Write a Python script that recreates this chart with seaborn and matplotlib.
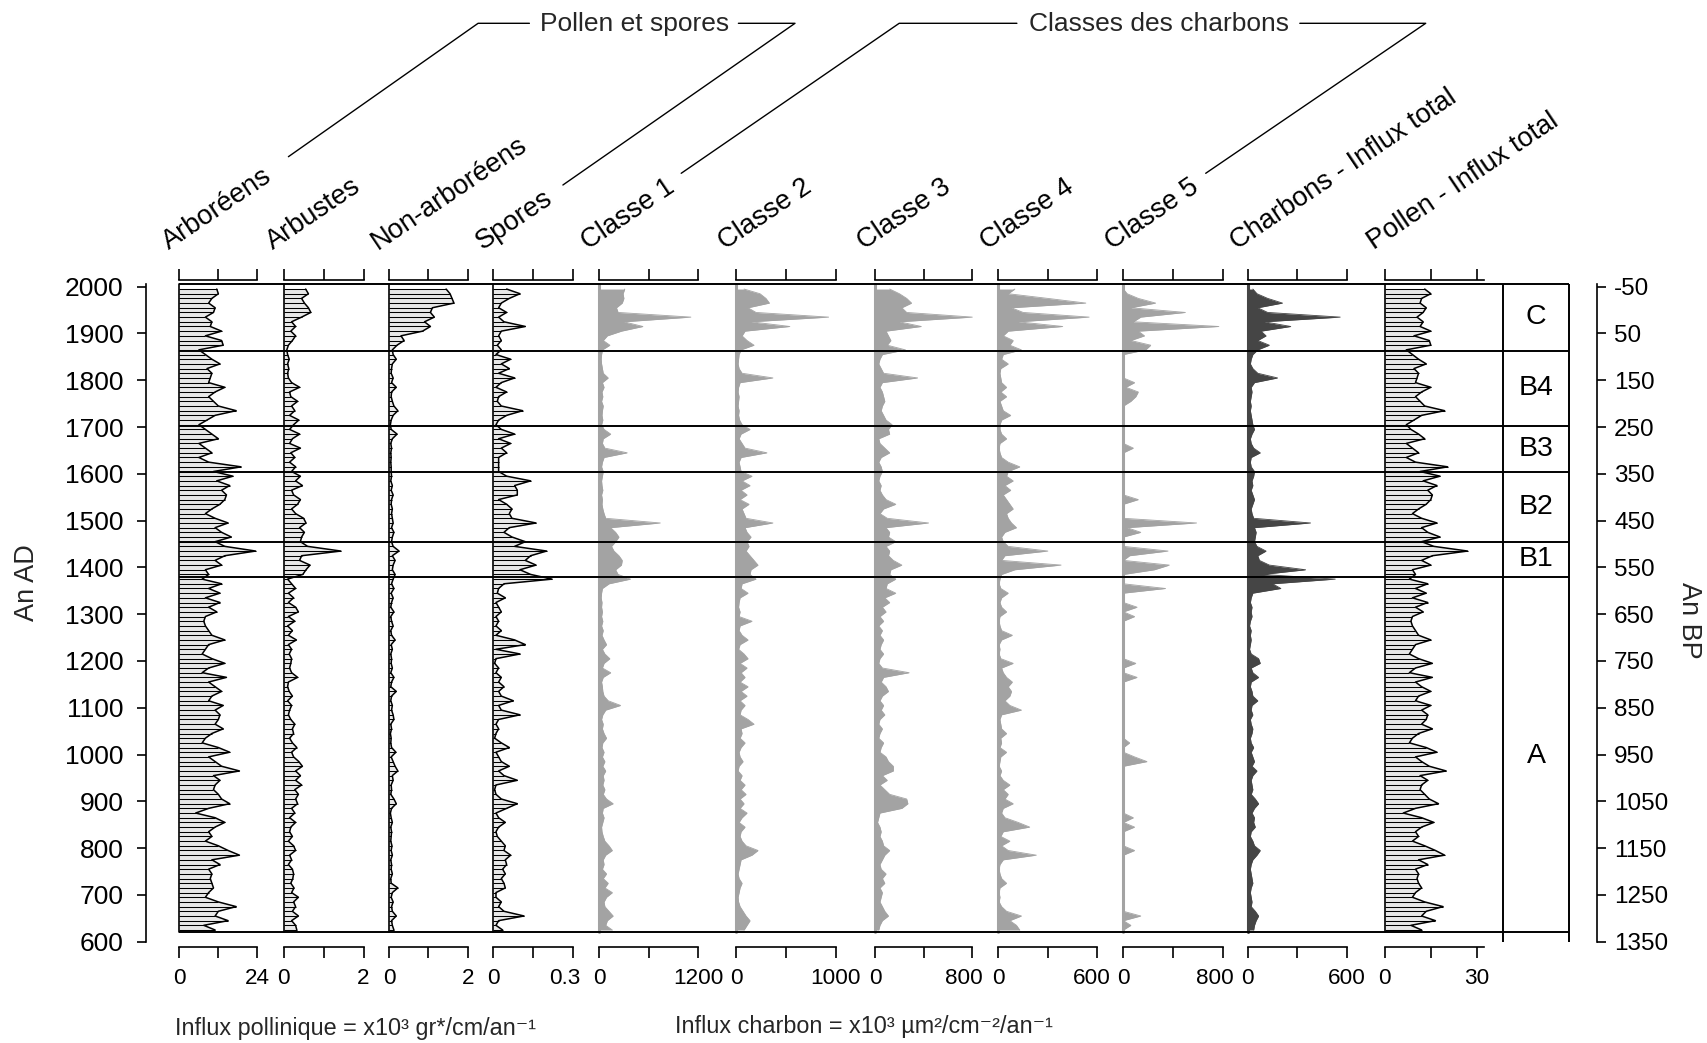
import numpy as np
import pandas as pd
import matplotlib
matplotlib.use("Agg")
import matplotlib.pyplot as plt
import matplotlib.transforms as mtransforms
import seaborn as sns
from matplotlib.lines import Line2D
from matplotlib.ticker import FixedLocator

sns.set_theme(style="ticks")
plt.rcParams["font.family"] = ["Liberation Sans", "DejaVu Sans"]

# ---------------- data ----------------
AGES = [1995, 1985, 1975, 1965, 1955, 1945, 1935, 1925, 1915, 1905,
        1895, 1885, 1875, 1865, 1855, 1845, 1835, 1825, 1815, 1805,
        1795, 1785, 1775, 1765, 1755, 1745, 1735, 1725, 1715, 1705,
        1695, 1685, 1675, 1665, 1655, 1645, 1635, 1625, 1615, 1605,
        1595, 1585, 1575, 1565, 1555, 1545, 1535, 1525, 1515, 1505,
        1495, 1485, 1475, 1465, 1455, 1445, 1435, 1425, 1415, 1405,
        1395, 1385, 1375, 1365, 1355, 1345, 1335, 1325, 1315, 1305,
        1295, 1285, 1275, 1265, 1255, 1245, 1235, 1225, 1215, 1205,
        1195, 1185, 1175, 1165, 1155, 1145, 1135, 1125, 1115, 1105,
        1095, 1085, 1075, 1065, 1055, 1045, 1035, 1025, 1015, 1005,
        995, 985, 975, 965, 955, 945, 935, 925, 915, 905,
        895, 885, 875, 865, 855, 845, 835, 825, 815, 805,
        795, 785, 775, 765, 755, 745, 735, 725, 715, 705,
        695, 685, 675, 665, 655, 645, 635,
        625]

ARBOREENS = [11.5, 12, 10, 9, 11, 10.5, 8, 10, 9.5, 13,
             8, 13, 13.5, 6, 8, 10, 12.5, 8.5, 10, 9.5,
             9, 14, 11, 9, 10.5, 12, 17.5, 11, 8.5, 6,
             8, 10, 12, 6, 8, 10, 6, 9, 19, 10.5,
             16.5, 11.5, 15.5, 13, 14.5, 14, 12.5, 10, 8, 11,
             15, 11, 13, 16, 11, 14, 23.5, 14, 11, 13,
             8, 9, 7, 13, 9, 12.5, 8, 12.5, 9, 11.5,
             8, 7.5, 8, 9, 10, 14, 9, 8, 7, 10,
             14, 9, 7, 14.5, 9, 11, 13, 10, 9, 13.5,
             11, 12.5, 12, 11, 13.5, 10, 8, 7, 12, 15.5,
             9, 11, 13, 18.5, 10.5, 12.5, 11, 10.5, 12, 13,
             15.5, 9, 5, 11, 14, 11, 9, 10, 8, 12,
             15, 18.5, 10, 12.5, 9, 10, 9.5, 10, 10.5, 9,
             8, 12, 17.5, 12, 11, 15, 7.5,
             11]

ARBUSTES = [0.55, 0.62, 0.45, 0.52, 0.62, 0.68, 0.45, 0.2, 0.3, 0.18,
            0.3, 0.22, 0.12, 0.08, 0.1, 0.14, 0.1, 0.13, 0.1, 0.12,
            0.2, 0.4, 0.15, 0.18, 0.35, 0.2, 0.28, 0.15, 0.38, 0.25,
            0.15, 0.4, 0.22, 0.15, 0.42, 0.18, 0.28, 0.15, 0.3, 0.2,
            0.42, 0.3, 0.47, 0.2, 0.25, 0.42, 0.35, 0.2, 0.3, 0.5,
            0.56, 0.4, 0.52, 0.45, 0.42, 0.6, 1.43, 0.45, 0.4, 0.66,
            0.56, 0.48, 0.1, 0.2, 0.3, 0.12, 0.25, 0.12, 0.3, 0.37,
            0.12, 0.28, 0.1, 0.22, 0.12, 0.32, 0.12, 0.2, 0.14, 0.2,
            0.18, 0.15, 0.2, 0.35, 0.12, 0.1, 0.14, 0.22, 0.1, 0.2,
            0.15, 0.12, 0.18, 0.28, 0.22, 0.25, 0.15, 0.22, 0.33, 0.2,
            0.25, 0.38, 0.47, 0.3, 0.42, 0.3, 0.45, 0.28, 0.37, 0.3,
            0.35, 0.2, 0.28, 0.15, 0.3, 0.18, 0.15, 0.22, 0.12, 0.25,
            0.3, 0.15, 0.2, 0.12, 0.22, 0.25, 0.23, 0.18, 0.26, 0.2,
            0.37, 0.25, 0.3, 0.22, 0.37, 0.2, 0.3,
            0.33]

NON_ARBOREENS = [1.45, 1.55, 1.6, 1.65, 1.1, 1.05, 1.15, 0.9, 1.05, 0.85,
                 0.3, 0.38, 0.2, 0.08, 0.1, 0.18, 0.08, 0.06, 0.05, 0.1,
                 0.06, 0.18, 0.06, 0.05, 0.08, 0.12, 0.22, 0.1, 0.05, 0.03,
                 0.05, 0.2, 0.08, 0.04, 0.06, 0.04, 0.05, 0.04, 0.05, 0.05,
                 0.06, 0.04, 0.08, 0.05, 0.1, 0.06, 0.05, 0.08, 0.06, 0.08,
                 0.1, 0.06, 0.12, 0.08, 0.06, 0.1, 0.25, 0.08, 0.15, 0.1,
                 0.08, 0.15, 0.1, 0.06, 0.12, 0.05, 0.1, 0.06, 0.04, 0.12,
                 0.04, 0.06, 0.1, 0.04, 0.06, 0.15, 0.05, 0.08, 0.04, 0.06,
                 0.05, 0.08, 0.04, 0.12, 0.06, 0.04, 0.18, 0.06, 0.04, 0.08,
                 0.06, 0.1, 0.12, 0.04, 0.06, 0.03, 0.05, 0.04, 0.06, 0.17,
                 0.05, 0.1, 0.15, 0.22, 0.08, 0.1, 0.05, 0.06, 0.04, 0.12,
                 0.18, 0.06, 0.03, 0.05, 0.08, 0.04, 0.06, 0.05, 0.04, 0.07,
                 0.05, 0.08, 0.04, 0.06, 0.05, 0.08, 0.04, 0.05, 0.22, 0.08,
                 0.05, 0.1, 0.06, 0.08, 0.18, 0.06, 0.08,
                 0.12]

SPORES = [0.05, 0.1, 0.06, 0.03, 0.02, 0.05, 0.02, 0.04, 0.12, 0.03,
          0.02, 0.03, 0.015, 0.03, 0.01, 0.065, 0.03, 0.06, 0.02, 0.08,
          0.03, 0.01, 0.05, 0.02, 0.015, 0.03, 0.11, 0.05, 0.02, 0.01,
          0.03, 0.08, 0.02, 0.065, 0.03, 0.05, 0.02, 0.02, 0.02, 0.02,
          0.05, 0.14, 0.08, 0.09, 0.09, 0.02, 0.05, 0.07, 0.06, 0.07,
          0.16, 0.06, 0.04, 0.07, 0.12, 0.08, 0.2, 0.14, 0.12, 0.16,
          0.1, 0.14, 0.22, 0.04, 0.02, 0.015, 0.045, 0.01, 0.02, 0.03,
          0.01, 0.02, 0.01, 0.03, 0.01, 0.08, 0.12, 0.01, 0.1, 0.01,
          0.005, 0.02, 0.01, 0.03, 0.02, 0.04, 0.02, 0.03, 0.075, 0.02,
          0.03, 0.1, 0.02, 0.01, 0.02, 0.01, 0.005, 0.03, 0.06, 0.01,
          0.02, 0.03, 0.06, 0.02, 0.04, 0.09, 0.01, 0.005, 0.01, 0.03,
          0.09, 0.05, 0.01, 0.02, 0.045, 0.02, 0.01, 0.015, 0.03, 0.045,
          0.04, 0.065, 0.045, 0.05, 0.035, 0.045, 0.03, 0.04, 0.045, 0.01,
          0.01, 0.03, 0.02, 0.04, 0.115, 0.02, 0.01,
          0.035]

CLASSE_1 = [310, 290, 300, 280, 210, 230, 1110, 300, 530, 270,
            100, 50, 130, 40, 30, 25, 30, 40, 50, 110,
            40, 60, 35, 45, 30, 50, 40, 35, 45, 30,
            60, 140, 50, 40, 70, 340, 60, 40, 30, 50,
            40, 30, 35, 45, 30, 40, 35, 45, 60, 80,
            740, 140, 200, 240, 200, 150, 180, 240, 280, 270,
            200, 230, 380, 120, 40, 30, 25, 35, 30, 40,
            30, 45, 30, 50, 35, 60, 90, 40, 70, 130,
            60, 40, 140, 50, 30, 40, 45, 60, 110, 260,
            80, 45, 30, 50, 40, 60, 90, 45, 35, 60,
            40, 70, 45, 80, 50, 60, 45, 70, 50, 90,
            170, 50, 40, 60, 45, 30, 35, 50, 70, 120,
            160, 80, 50, 60, 40, 90, 50, 110, 70, 160,
            90, 60, 70, 120, 170, 100, 80,
            160]

CLASSE_2 = [80, 240, 300, 335, 120, 200, 930, 150, 540, 90,
            60, 110, 180, 50, 30, 25, 20, 30, 60, 370,
            40, 25, 20, 30, 25, 20, 30, 25, 35, 60,
            140, 50, 30, 60, 90, 310, 50, 30, 40, 50,
            160, 60, 140, 50, 110, 40, 130, 60, 80, 100,
            370, 90, 110, 150, 110, 130, 100, 140, 180, 220,
            150, 140, 200, 60, 50, 120, 40, 30, 25, 40,
            30, 160, 40, 30, 60, 120, 40, 25, 80, 120,
            40, 110, 50, 90, 40, 120, 50, 110, 40, 90,
            50, 40, 120, 180, 50, 60, 40, 90, 50, 30,
            40, 70, 30, 20, 60, 40, 90, 50, 100, 40,
            80, 40, 110, 60, 30, 90, 50, 40, 60, 100,
            220, 160, 50, 40, 30, 20, 30, 60, 40, 30,
            20, 25, 40, 70, 100, 140, 110,
            80]

CLASSE_3 = [120, 200, 260, 300, 220, 260, 800, 200, 380, 90,
            110, 130, 100, 250, 60, 40, 30, 50, 70, 350,
            60, 40, 60, 70, 80, 60, 50, 70, 90, 140,
            110, 120, 30, 40, 80, 120, 50, 30, 50, 60,
            40, 30, 50, 40, 60, 90, 170, 70, 40, 100,
            440, 90, 120, 110, 170, 90, 120, 110, 150, 220,
            130, 120, 170, 100, 90, 170, 80, 120, 60, 90,
            40, 70, 30, 60, 40, 70, 50, 40, 70, 40,
            30, 60, 280, 70, 50, 90, 110, 60, 40, 70,
            50, 80, 40, 30, 60, 40, 30, 70, 50, 40,
            90, 110, 150, 150, 60, 100, 40, 80, 120, 260,
            270, 220, 40, 30, 20, 40, 50, 40, 60, 70,
            120, 80, 60, 40, 50, 90, 60, 80, 40, 60,
            50, 40, 60, 80, 110, 60, 40,
            30]

CLASSE_4 = [100, 60, 300, 530, 80, 150, 550, 120, 390, 60,
            30, 90, 70, 140, 30, 20, 60, 15, 10, 15,
            20, 50, 15, 50, 10, 20, 30, 75, 20, 10,
            10, 20, 50, 10, 5, 10, 20, 60, 130, 60,
            50, 90, 40, 75, 30, 50, 70, 90, 50, 60,
            80, 110, 40, 20, 30, 60, 300, 40, 20, 380,
            100, 20, 10, 5, 15, 60, 20, 10, 20, 50,
            10, 5, 10, 20, 85, 20, 5, 10, 5, 15,
            90, 20, 30, 50, 85, 60, 80, 70, 40, 70,
            140, 20, 10, 15, 20, 50, 15, 20, 10, 50,
            15, 10, 5, 20, 10, 30, 70, 30, 60, 40,
            90, 30, 20, 40, 120, 190, 30, 15, 70, 20,
            60, 230, 30, 10, 5, 10, 20, 50, 10, 5,
            10, 5, 20, 50, 140, 70, 110,
            130]

CLASSE_5 = [0, 30, 120, 260, 60, 500, 140, 80, 770, 120,
            170, 60, 220, 180, 0, 0, 0, 0, 0, 0,
            90, 20, 120, 100, 60, 0, 0, 0, 0, 0,
            0, 0, 0, 0, 80, 0, 0, 0, 0, 0,
            0, 0, 0, 0, 0, 120, 0, 0, 0, 0,
            590, 30, 140, 0, 0, 0, 360, 50, 0, 370,
            250, 0, 0, 0, 340, 0, 0, 0, 110, 0,
            90, 0, 0, 0, 0, 0, 0, 0, 0, 0,
            100, 0, 0, 110, 0, 0, 0, 0, 0, 0,
            0, 0, 0, 0, 0, 0, 0, 50, 0, 0,
            90, 190, 0, 0, 0, 0, 0, 0, 0, 0,
            0, 0, 0, 80, 0, 90, 0, 0, 0, 0,
            90, 0, 0, 0, 0, 0, 0, 0, 0, 0,
            0, 0, 0, 0, 140, 0, 60,
            0]

CHARBONS_TOTAL = [30, 55, 120, 210, 60, 120, 560, 100, 260, 80,
                  110, 60, 130, 60, 30, 20, 15, 30, 60, 180,
                  40, 20, 25, 20, 15, 20, 15, 20, 25, 30,
                  40, 25, 15, 20, 35, 75, 20, 15, 20, 40,
                  35, 25, 30, 20, 30, 40, 30, 20, 25, 35,
                  380, 40, 50, 45, 40, 55, 110, 60, 70, 130,
                  350, 90, 530, 150, 200, 30, 20, 15, 25, 20,
                  25, 15, 10, 20, 15, 20, 15, 10, 20, 65,
                  75, 20, 30, 65, 20, 15, 25, 30, 60, 25,
                  20, 30, 15, 20, 30, 25, 15, 20, 35, 20,
                  30, 40, 25, 55, 30, 20, 25, 30, 20, 45,
                  65, 40, 25, 40, 35, 45, 20, 15, 30, 40,
                  75, 55, 30, 20, 15, 20, 25, 30, 20, 15,
                  20, 25, 20, 45, 65, 50, 40,
                  35]

POLLEN_TOTAL = [13, 15, 12, 11.5, 13.5, 12.5, 10.5, 12.5, 11.5, 15,
                9.5, 14.5, 15, 7, 9, 11, 13.5, 9.5, 11, 10.5,
                10, 15, 12, 10, 11.5, 13, 19.5, 12, 9.5, 7,
                8.5, 11, 13, 7, 9, 11, 7, 10, 20.5, 11.5,
                18, 12.5, 17, 14, 15.5, 15, 13.5, 11, 9, 12,
                17, 12, 14, 18, 12, 16, 27, 15.5, 12, 15,
                9, 10, 8, 14, 10, 13.5, 9, 14, 10, 12.5,
                9, 8.5, 9, 10, 11, 15, 10, 9, 8, 11,
                15.5, 10, 8, 15.5, 10, 12, 15, 11, 10, 15,
                12, 14, 13.5, 12, 15.5, 11, 9, 8, 13.5, 17,
                10, 12, 14.5, 20, 11.5, 14, 12, 11.5, 13, 14.5,
                17.5, 10, 6, 12, 16, 12, 10, 11, 9, 13,
                16.5, 19.5, 11, 14, 10, 11, 10.5, 11, 12, 10,
                9, 13, 19, 13.5, 12, 16.5, 8.5,
                12]

TITLES = ["Arboréens", "Arbustes", "Non-arboréens", "Spores",
          "Classe 1", "Classe 2", "Classe 3", "Classe 4", "Classe 5",
          "Charbons - Influx total", "Pollen - Influx total"]
SERIES = [ARBOREENS, ARBUSTES, NON_ARBOREENS, SPORES,
          CLASSE_1, CLASSE_2, CLASSE_3, CLASSE_4, CLASSE_5,
          CHARBONS_TOTAL, POLLEN_TOTAL]
AXIS_MAX = [24, 2, 2, 0.3, 1200, 1000, 800, 600, 800, 600, 30]
AXIS_MAX_LABEL = ["24", "2", "2", "0.3", "1200", "1000", "800", "600", "800", "600", "30"]
KIND = ["pollen"] * 4 + ["charcoal"] * 5 + ["total_charcoal", "pollen"]

ZONE_BOUNDS = [1863, 1703, 1603, 1454, 1380]
ZONE_LABELS = ["C", "B4", "B3", "B2", "B1", "A"]
ZONE_EDGES = [2006, 1863, 1703, 1603, 1454, 1380, 620]

for s in SERIES:
    assert len(s) == len(AGES), len(s)

# ---------------- layout (pixels of a 1708 x 1043 canvas) ----------------
W, H = 1708, 1043
DPI = 100
fig = plt.figure(figsize=(W / DPI, H / DPI), dpi=DPI)
fig.patch.set_facecolor("white")

def fx(px):
    return px / W

def fy(px):
    return 1 - px / H

Y2000, Y600 = 286.7, 941.7
PX_PER_YR = (Y600 - Y2000) / 1400.0
YMAX = 2006
TOP_PX = Y2000 - (YMAX - 2000) * PX_PER_YR
AX_B = fy(Y600)
AX_H = (Y600 - TOP_PX) / H
PT = 72 / DPI  # points per pixel

LEFTS = [179.5, 283.6, 389.2, 493.3, 599.1, 736.1, 875.1, 998.3, 1123.4, 1247.9, 1384.9]
RIGHTS = [257.2, 363.6, 467.7, 573.3, 698.3, 835.6, 972.3, 1097.4, 1222.6, 1346.8, 1476.7]
MAX_LABEL_DX = [0, 0, 0, -8, 0, 0, -8, -6, -8, 0, 0]   # px nudges of the max labels

FS_TITLE = 19.6
FS_BOTTOM = 16.2
FS_LEFT = 19
FS_RIGHT = 17.5
LINE_W = 1.2
LABEL_BASELINE_PX = 984.0

for i, (title, vals, amax, alab, kind) in enumerate(zip(TITLES, SERIES, AXIS_MAX, AXIS_MAX_LABEL, KIND)):
    left, right = LEFTS[i], RIGHTS[i]
    xmax = amax
    if title.startswith("Pollen"):
        xmax = 32.5
        right = left + (right - left) * xmax / amax
    ax = fig.add_axes([fx(left), AX_B, (right - left) / W, AX_H])
    ax.set_xlim(0, xmax)
    ax.set_ylim(600, YMAX)
    ax.patch.set_visible(False)
    df = pd.DataFrame({"age": AGES, "val": vals})
    if kind == "pollen":
        ax.fill_betweenx(df["age"], 0, df["val"], color="#e8e8e8", lw=0, clip_on=False, zorder=1)
        ax.hlines(df["age"], 0, df["val"], color="black", lw=0.75, zorder=2, clip_on=False)
        sns.lineplot(data=df, x="val", y="age", orient="y", sort=False, estimator=None,
                     color="black", linewidth=1.1, ax=ax, zorder=3, clip_on=False)
        ax.plot([0, 0], [620, YMAX], color="black", lw=LINE_W, clip_on=False, zorder=4)
    else:
        col = "#a3a3a3" if kind == "charcoal" else "#454545"
        ax.fill_betweenx(df["age"], 0, df["val"], color=col, lw=0, clip_on=False, zorder=1)
        sns.lineplot(data=df, x="val", y="age", orient="y", sort=False, estimator=None,
                     color=col, linewidth=0.6, ax=ax, zorder=2, clip_on=False)
        ax.plot([0, 0], [620, YMAX], color=col, lw=2.2, clip_on=False, zorder=3)
    ax.set_xlabel("")
    ax.set_ylabel("")
    for sp in ("left", "right"):
        ax.spines[sp].set_visible(False)
    ax.spines["top"].set_position(("outward", 3.9 * PT))
    ax.spines["bottom"].set_position(("outward", 4.8 * PT))
    for sp in ("top", "bottom"):
        ax.spines[sp].set_bounds(0, xmax)
        ax.spines[sp].set_linewidth(LINE_W)
        ax.spines[sp].set_color("black")
    ax.xaxis.set_major_locator(FixedLocator([0, amax / 2, amax]))
    ax.tick_params(axis="x", which="both", top=True, bottom=True, labeltop=False,
                   labelbottom=False, direction="out", length=11 * PT, width=LINE_W,
                   color="black")
    ax.set_yticks([])
    # bottom scale labels (0 and maximum)
    base = mtransforms.blended_transform_factory(ax.transData, ax.transAxes)
    dy = -(LABEL_BASELINE_PX - Y600) / DPI
    for xv, lab, dxp in ((0, "0", 0), (amax, alab, MAX_LABEL_DX[i])):
        tr = base + mtransforms.ScaledTranslation(dxp / DPI, dy, fig.dpi_scale_trans)
        ax.text(xv, 0, lab, transform=tr, ha="center", va="baseline",
                fontsize=FS_BOTTOM, color="black", clip_on=False)
    fig.text(fx(left - 11), fy(250), title, rotation=34, rotation_mode="anchor",
             ha="left", va="baseline", fontsize=FS_TITLE, color="black")

# frame, zone lines and zone labels
X0, X1 = 179.5, 1568.9
ZCOL = 1503.4
bg = fig.add_axes([fx(X0), AX_B, (X1 - X0) / W, AX_H])
bg.set_xlim(X0, X1)
bg.set_ylim(600, YMAX)
bg.axis("off")
bg.patch.set_visible(False)
bg.hlines([YMAX] + ZONE_BOUNDS + [620], X0, X1, color="black", lw=1.4, clip_on=False)
bg.vlines([ZCOL, X1], 600, YMAX, color="black", lw=1.4, clip_on=False)
zc = (ZCOL + X1) / 2
for lab, top, bot in zip(ZONE_LABELS, ZONE_EDGES[:-1], ZONE_EDGES[1:]):
    y = (top + bot) / 2
    if lab == "A":
        y = 996
    bg.text(zc, y, lab, ha="center", va="center", fontsize=20.5, color="black")

# left age axis (AD)
axl = fig.add_axes([fx(145.7), AX_B, 0.0005, AX_H])
axl.set_ylim(600, YMAX)
axl.set_xticks([])
axl.patch.set_visible(False)
for sp in ("top", "right", "bottom"):
    axl.spines[sp].set_visible(False)
axl.spines["left"].set_linewidth(LINE_W)
axl.spines["left"].set_color("black")
AD_TICKS = [600, 700, 800, 900, 1000, 1100, 1200, 1300, 1400, 1500, 1600, 1700, 1800, 1900, 2000]
axl.set_yticks(AD_TICKS)
axl.set_yticklabels([str(t) for t in AD_TICKS])
axl.tick_params(axis="y", direction="out", length=9 * PT, width=LINE_W, color="black",
                labelsize=FS_LEFT, pad=9.6, labelcolor="black")
fig.text(fx(27.5), fy(583), "An AD", rotation=90, ha="center", va="center", fontsize=19.5)

# right age axis (BP)
axr = fig.add_axes([fx(1595.7), AX_B, 0.0005, AX_H])
axr.set_ylim(1950 - 600, 1950 - YMAX)
axr.set_xticks([])
axr.patch.set_visible(False)
for sp in ("top", "left", "bottom"):
    axr.spines[sp].set_visible(False)
axr.spines["right"].set_linewidth(LINE_W)
axr.spines["right"].set_color("black")
BP_TICKS = [-50, 50, 150, 250, 350, 450, 550, 650, 750, 850, 950, 1050, 1150, 1250, 1350]
axr.yaxis.tick_right()
axr.set_yticks(BP_TICKS)
axr.set_yticklabels([str(t) for t in BP_TICKS])
axr.tick_params(axis="y", direction="out", length=9.3 * PT, width=LINE_W, color="black",
                labelsize=FS_RIGHT, pad=6, labelcolor="black")
fig.text(fx(1689), fy(620), "An BP", rotation=270, ha="center", va="center", fontsize=19.5)

# group headers with bracket lines
def fline(pts):
    xs = [fx(p[0]) for p in pts]
    ys = [fy(p[1]) for p in pts]
    fig.add_artist(Line2D(xs, ys, transform=fig.transFigure, color="black", lw=1.0))

fline([(288.4, 156.7), (478.1, 23.3), (529.4, 23.3)])
fline([(738.4, 23.3), (795.0, 23.3), (562.9, 185.0)])
fig.text(fx(634.5), fy(24), "Pollen et spores", ha="center", va="center", fontsize=19.0)
fline([(681.2, 173.3), (899.2, 23.3), (1016.9, 23.3)])
fline([(1299.8, 23.3), (1425.7, 23.3), (1205.7, 173.3)])
fig.text(fx(1158.6), fy(24), "Classes des charbons", ha="center", va="center", fontsize=19.0)

# unit captions
fig.text(fx(175), fy(1028), "Influx pollinique = x10³ gr*/cm/an⁻¹", ha="left", va="center", fontsize=16.8)
fig.text(fx(675), fy(1027), "Influx charbon = x10³ µm²/cm⁻²/an⁻¹", ha="left", va="center", fontsize=16.8)

fig.savefig("out.png", dpi=DPI, facecolor="white")
